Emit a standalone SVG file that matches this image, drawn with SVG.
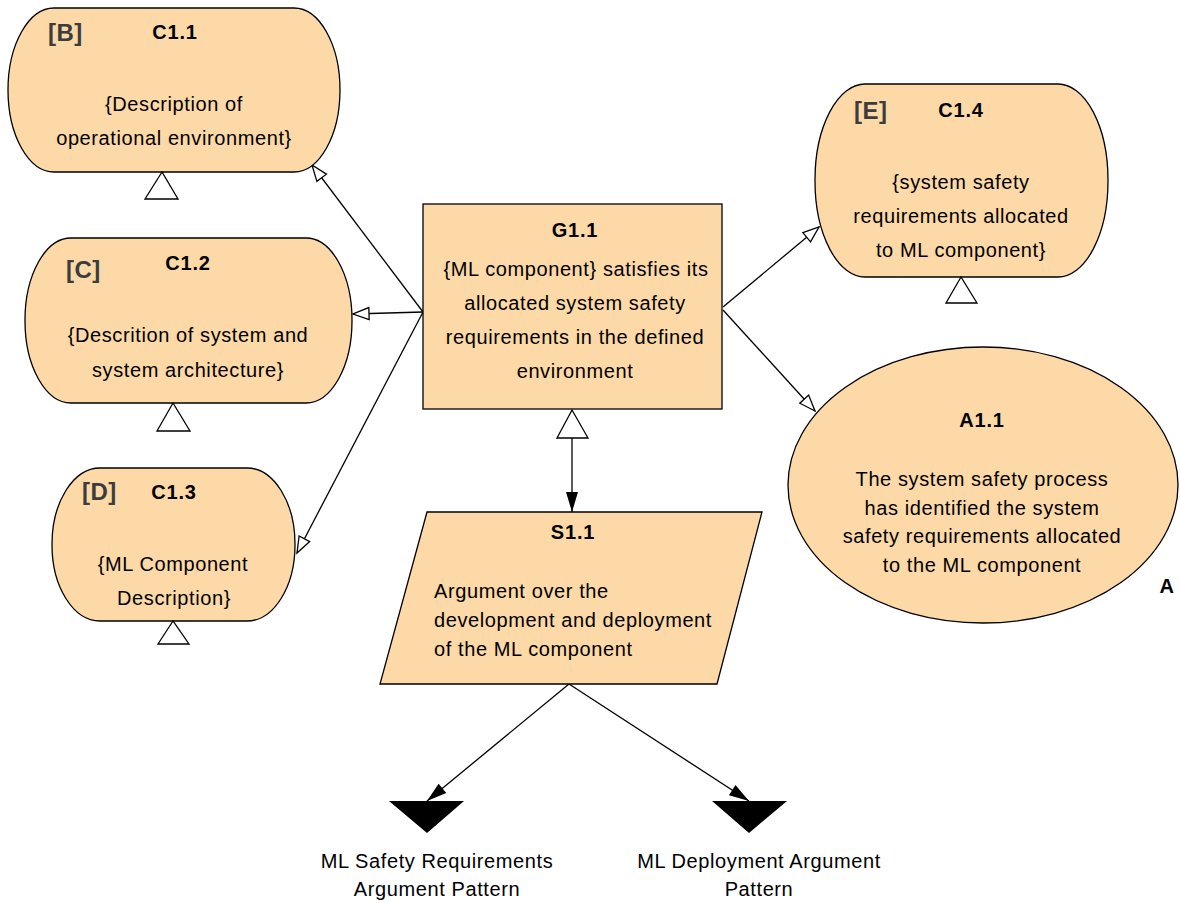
<svg xmlns="http://www.w3.org/2000/svg" width="1180" height="903" viewBox="0 0 1180 903">
<style>
.shape{fill:#FDD9A7;stroke:#000;stroke-width:1.3}
.t{font-family:"Liberation Sans",Arial,sans-serif;font-size:20px;letter-spacing:0.6px;fill:#000;text-anchor:middle}
.l{font-family:"Liberation Sans",Arial,sans-serif;font-size:20px;letter-spacing:0.6px;fill:#000;text-anchor:start}
.h{font-family:"Liberation Sans",Arial,sans-serif;font-size:20px;letter-spacing:0.8px;font-weight:bold;fill:#000;text-anchor:middle}
.tag{font-family:"Liberation Sans",Arial,sans-serif;font-size:24px;letter-spacing:0.5px;font-weight:bold;fill:#3c3c3c}
.tri{fill:#fff;stroke:#000;stroke-width:1.3}
.blk{fill:#000;stroke:none}
.c{stroke:#000;stroke-width:1.3;fill:none}
</style>
<defs>
<marker id="hollow" markerUnits="userSpaceOnUse" viewBox="-2 -2 20 16" refX="16" refY="6" markerWidth="20" markerHeight="16" orient="auto" overflow="visible">
<path d="M0,0 L16,6 L0,12 Z" fill="#fff" stroke="#000" stroke-width="1.3"/>
</marker>
<marker id="filled" markerUnits="userSpaceOnUse" viewBox="-2 -2 24 16" refX="20" refY="6" markerWidth="24" markerHeight="16" orient="auto" overflow="visible">
<path d="M0,0 L20,6 L0,12 Z" fill="#000"/>
</marker>
</defs>

<g id="connectors">
<line class="c" x1="423" y1="312" x2="312" y2="165" marker-end="url(#hollow)"/>
<line class="c" x1="423" y1="312" x2="353" y2="314" marker-end="url(#hollow)"/>
<line class="c" x1="423" y1="312" x2="297" y2="553" marker-end="url(#hollow)"/>
<line class="c" x1="723" y1="307" x2="819" y2="227" marker-end="url(#hollow)"/>
<line class="c" x1="723" y1="310" x2="815" y2="411" marker-end="url(#hollow)"/>
<polygon class="tri" points="572,410 557,438 588,438"/>
<line class="c" x1="572" y1="438" x2="572" y2="512" marker-end="url(#filled)"/>
<line class="c" x1="569" y1="684" x2="427" y2="801" marker-end="url(#filled)"/>
<line class="c" x1="569" y1="684" x2="749" y2="801" marker-end="url(#filled)"/>
</g>

<g id="C1.1">
<rect class="shape" x="8" y="8" width="332" height="164" rx="46" ry="82"/>
<polygon class="tri" points="162,172 145,199 178,199"/>
<text class="tag" x="48" y="41">[B]</text>
<text class="h" x="175" y="39">C1.1</text>
<text class="t" x="174" y="111">{Description of</text>
<text class="t" x="174" y="145">operational environment}</text>
</g>

<g id="C1.2">
<rect class="shape" x="25" y="238" width="327" height="165" rx="46" ry="82"/>
<polygon class="tri" points="173,403 157,431 190,431"/>
<text class="tag" x="66" y="278">[C]</text>
<text class="h" x="188" y="270">C1.2</text>
<text class="t" x="188" y="342">{Descrition of system and</text>
<text class="t" x="188" y="377">system architecture}</text>
</g>

<g id="C1.3">
<rect class="shape" x="52" y="468" width="243" height="153" rx="48" ry="76"/>
<polygon class="tri" points="173,621 158,644 189,644"/>
<text class="tag" x="82" y="500">[D]</text>
<text class="h" x="174" y="499">C1.3</text>
<text class="t" x="173" y="571">{ML Component</text>
<text class="t" x="174" y="605">Description}</text>
</g>

<g id="C1.4">
<rect class="shape" x="815" y="84" width="293" height="193" rx="50" ry="96"/>
<polygon class="tri" points="961,277 946,303 977,303"/>
<text class="tag" x="854" y="119">[E]</text>
<text class="h" x="961" y="117">C1.4</text>
<text class="t" x="961" y="189">{system safety</text>
<text class="t" x="961" y="223">requirements allocated</text>
<text class="t" x="961" y="257">to ML component}</text>
</g>

<g id="G1.1">
<rect class="shape" x="423" y="204" width="299" height="205"/>
<text class="h" x="575" y="237">G1.1</text>
<text class="t" x="576" y="276">{ML component} satisfies its</text>
<text class="t" x="575" y="310">allocated system safety</text>
<text class="t" x="575" y="344">requirements in the defined</text>
<text class="t" x="575" y="378">environment</text>
</g>

<g id="A1.1">
<ellipse class="shape" cx="983" cy="485" rx="195" ry="138"/>
<text class="h" x="982" y="427">A1.1</text>
<text class="t" x="982" y="486">The system safety process</text>
<text class="t" x="982" y="515">has identified the system</text>
<text class="t" x="982" y="543">safety requirements allocated</text>
<text class="t" x="982" y="572">to the ML component</text>
<text class="h" x="1167" y="593">A</text>
</g>

<g id="S1.1">
<polygon class="shape" points="427,512 762,512 717,684 380,684"/>
<text class="h" x="573" y="539">S1.1</text>
<text class="l" x="434" y="598">Argument over the</text>
<text class="l" x="434" y="627">development and deployment</text>
<text class="l" x="434" y="656">of the ML component</text>
</g>

<g id="ML-Safety-Requirements">
<polygon class="blk" points="389,801 464,801 427,833"/>
<text class="t" x="437" y="868">ML Safety Requirements</text>
<text class="t" x="437" y="896">Argument Pattern</text>
</g>

<g id="ML-Deployment">
<polygon class="blk" points="712,801 787,801 749,833"/>
<text class="t" x="759" y="868">ML Deployment Argument</text>
<text class="t" x="759" y="896">Pattern</text>
</g>
</svg>
